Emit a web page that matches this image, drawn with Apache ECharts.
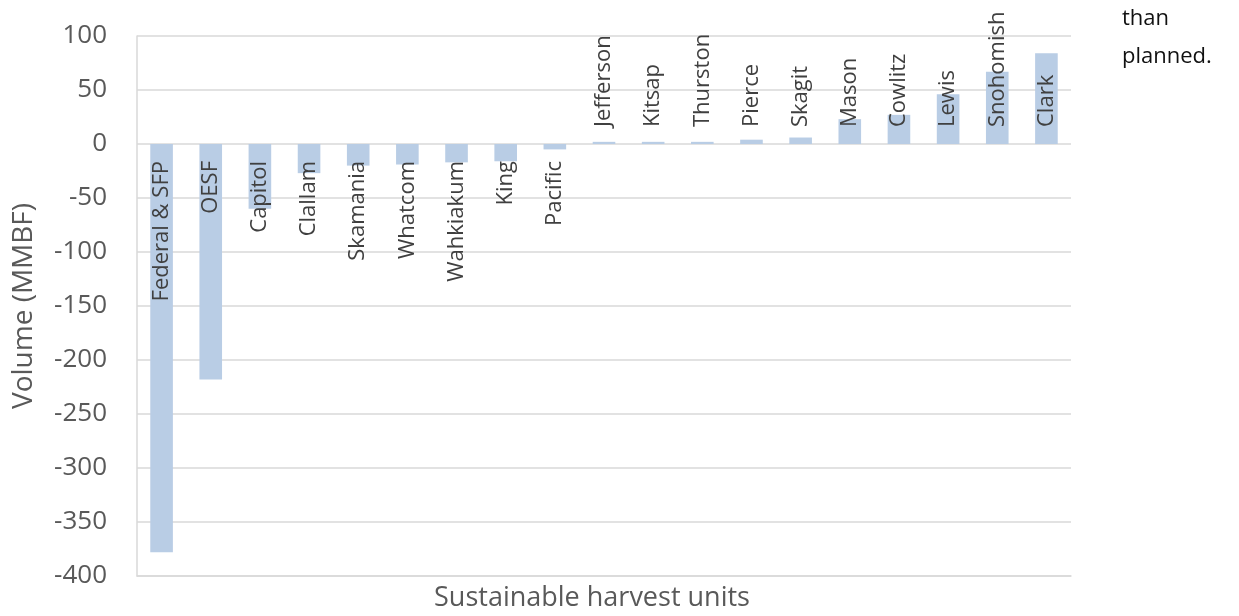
<!DOCTYPE html>
<html>
<head>
<meta charset="utf-8">
<script src="https://cdn.jsdelivr.net/npm/echarts@6/dist/echarts.min.js"></script>
<style>
  html, body { margin: 0; padding: 0; background: #fff; }
  #chart { width: 1239px; height: 616px; }
</style>
</head>
<body>
<div id="chart"></div>
<script>
// 可持续采伐单元 - 体积差 (MMBF)
const units = ['Federal & SFP', 'OESF', 'Capitol', 'Clallam', 'Skamania', 'Whatcom', 'Wahkiakum', 'King', 'Pacific',
  'Jefferson', 'Kitsap', 'Thurston', 'Pierce', 'Skagit', 'Mason', 'Cowlitz', 'Lewis', 'Snohomish', 'Clark']
const volumes = [-378, -218, -60, -27, -20, -19, -17, -16, -5,
  2, 2, 2, 4, 6, 23, 27, 46, 67, 84]
const yTicks = [-400, 100, 50]  // min, max, interval

const fontFamily = '"Open Sans", sans-serif'

// labels sit at the bar base: below zero for negative bars, above for positive
const barData = volumes.map((v, i) => ({
  value: v,
  label: {
    position: v < 0 ? 'insideTop' : 'insideBottom',
    align: v < 0 ? 'right' : 'left',
    formatter: units[i]
  }
}))

const chart = echarts.init(document.getElementById('chart'))
const option = {
  animation: false,
  grid: { left: 137, right: 168, top: 36, bottom: 40, outerBoundsMode: 'none' },
  xAxis: {
    type: 'category',
    data: units,
    name: 'Sustainable harvest units',
    nameLocation: 'middle',
    nameGap: 9,
    nameTextStyle: { fontSize: 27, color: '#595959', fontFamily, padding: [0, 24, 0, 0] },
    axisLine: { onZero: false, lineStyle: { color: '#d9d9d9', width: 1.5 } },
    axisTick: { show: false },
    axisLabel: { show: false }
  },
  yAxis: {
    type: 'value',
    min: yTicks[0],
    max: yTicks[1],
    interval: yTicks[2],
    name: 'Volume (MMBF)',
    nameLocation: 'middle',
    nameRotate: 90,
    nameGap: 99,
    nameTextStyle: { fontSize: 28, color: '#595959', fontFamily },
    axisLine: { show: true, lineStyle: { color: '#d9d9d9', width: 1.5 } },
    axisTick: { show: false },
    axisLabel: { fontSize: 26, color: '#595959', fontFamily, margin: 30 },
    splitLine: { lineStyle: { color: '#d9d9d9', width: 1.5 } }
  },
  series: [{
    type: 'bar',
    data: barData,
    barWidth: '46%',
    itemStyle: { color: '#b9cde5' },
    label: {
      show: true,
      rotate: 90,
      distance: 17,
      verticalAlign: 'middle',
      fontSize: 22,
      color: '#404040',
      fontFamily
    }
  }],
  graphic: [{
    type: 'text',
    left: 1122,
    top: 0,
    style: {
      text: 'than\nplanned.',
      fontSize: 22,
      lineHeight: 38,
      fill: '#111',
      fontFamily
    }
  }]
}
chart.setOption(option)
</script>
</body>
</html>
